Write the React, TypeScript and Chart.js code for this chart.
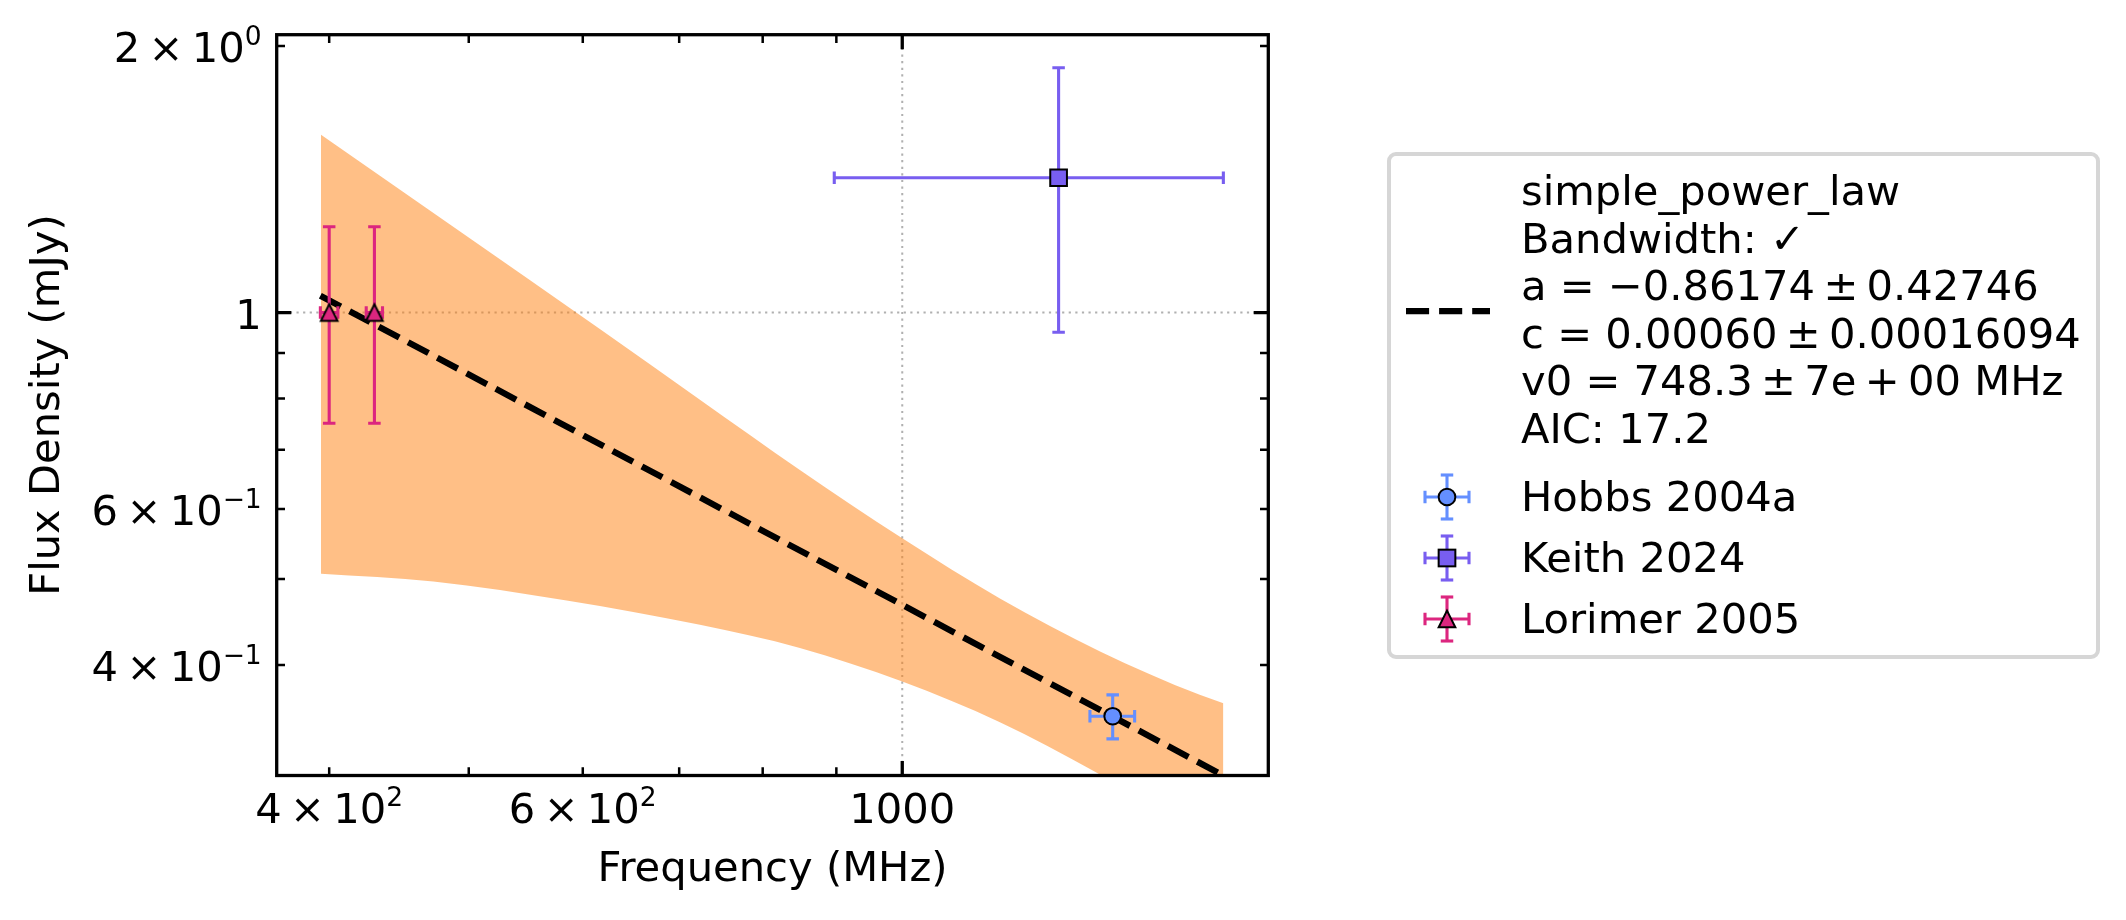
import React, { useEffect, useRef } from 'react';
import { Chart, registerables } from 'chart.js';

Chart.register(...registerables);

// ---------- data ----------
const hobbsFreq = [1400];
const hobbsFlux = [0.35];
const hobbsFreqErr = [50];
const hobbsFluxErr = [0.02];

const keithFreq = [1284];
const keithFlux = [1.42];
const keithFreqErr = [387];
const keithFluxErr = [0.47];

const lorimerFreq = [400, 430];
const lorimerFlux = [1.0, 1.0];
const lorimerFreqErr = [5.6, 5.6];
const lorimerFluxErr = [0.25, 0.25];

const fitFreq = [394.4, 1671];
const fitFlux = [1.045, 0.3];

const bandUpperFreq = [394.8, 616.6, 723.6, 849, 1000, 1169, 1372, 1609, 1671];
const bandUpperFlux = [1.588, 0.958, 0.797, 0.664, 0.556, 0.4755, 0.4143, 0.37, 0.362];
const bandLowerFreq = [394.8, 472.5, 584.7, 723.6, 849, 1000, 1169, 1361, 1671];
const bandLowerFlux = [0.507, 0.497, 0.473, 0.444, 0.418, 0.383, 0.3446, 0.303, 0.25];

// tick labels: "mantissa^exponent"
const xTickValues = [400, 500, 600, 700, 800, 900, 1000];
const xTickLabels = ['4 × 10^2', '', '6 × 10^2', '', '', '', '1000'];
const xMajorTicks = [1000];
const yTickValues = [0.4, 0.5, 0.6, 0.7, 0.8, 0.9, 1, 2];
const yTickLabels = ['4 × 10^−1', '', '6 × 10^−1', '', '', '', '1', '2 × 10^0'];
const yMajorTicks = [1];

const xRange = [367.8, 1795.5];
const yRange = [0.3016, 2.06];

const TS = '\u2009';
const fitLabelLines = [
  'simple_power_law',
  'Bandwidth: ✓',
  `a = −0.86174${TS}±${TS}0.42746`,
  `c = 0.00060${TS}±${TS}0.00016094`,
  `v0 = 748.3${TS}±${TS}7e${TS}+${TS}00 MHz`,
  'AIC: 17.2',
];
const seriesNames = ['Hobbs 2004a', 'Keith 2024', 'Lorimer 2005'];
const seriesColors = ['#648FFF', '#785EF0', '#DC267F'];

// ---------- style constants ----------
const W = 2126;
const H = 920;
const FONT = '"DejaVu Sans", sans-serif';
const FS = 41.67;
const SUP = 26.5;
const AREA = { left: 276.7, right: 1268.3, top: 34.7, bottom: 775.5 };
const MS = 16.7; // marker size
const ELW = 3.1; // errorbar line width
const CAP = 12.5; // cap length

function makeTriangle(color: string) {
  const c = document.createElement('canvas');
  const s = 22;
  c.width = s;
  c.height = s;
  const g = c.getContext('2d')!;
  const h = MS / 2;
  g.beginPath();
  g.moveTo(s / 2, s / 2 - h);
  g.lineTo(s / 2 - h, s / 2 + h);
  g.lineTo(s / 2 + h, s / 2 + h);
  g.closePath();
  g.fillStyle = color;
  g.fill();
  g.lineWidth = 2;
  g.lineJoin = 'miter';
  g.strokeStyle = '#000';
  g.stroke();
  return c;
}

const pts = (xs: number[], ys: number[]) => xs.map((x, i) => ({ x, y: ys[i] }));

function drawMathLabel(ctx: CanvasRenderingContext2D, label: string, x: number, baseline: number, align: string) {
  if (!label) return;
  const [mantRaw, exp] = label.split('^');
  const mant = mantRaw.replace(/ × /g, `${TS}×${TS}`);
  ctx.font = `${FS}px ${FONT}`;
  const w1 = ctx.measureText(mant).width;
  let w2 = 0;
  if (exp !== undefined) {
    ctx.font = `${SUP}px ${FONT}`;
    w2 = ctx.measureText(exp).width;
  }
  const total = w1 + w2;
  const start = align === 'center' ? x - total / 2 : x - total;
  ctx.textAlign = 'left';
  ctx.textBaseline = 'alphabetic';
  ctx.fillStyle = '#000';
  ctx.font = `${FS}px ${FONT}`;
  ctx.fillText(mant, start, baseline);
  if (exp !== undefined) {
    ctx.font = `${SUP}px ${FONT}`;
    ctx.fillText(exp, start + w1, baseline - 17);
  }
}

const chartPlugin = {
  id: 'mplFrame',
  beforeDatasetsDraw(chart: any) {
    const { ctx, chartArea: a } = chart;
    const xs = chart.scales.x;
    const ys = chart.scales.y;
    ctx.save();
    ctx.strokeStyle = '#b0b0b0';
    ctx.lineWidth = 2;
    ctx.setLineDash([2.2, 4.4]);
    xMajorTicks.forEach((v) => {
      const p = xs.getPixelForValue(v);
      ctx.beginPath();
      ctx.moveTo(p, a.top);
      ctx.lineTo(p, a.bottom);
      ctx.stroke();
    });
    yMajorTicks.forEach((v) => {
      const p = ys.getPixelForValue(v);
      ctx.beginPath();
      ctx.moveTo(a.left, p);
      ctx.lineTo(a.right, p);
      ctx.stroke();
    });
    ctx.restore();
  },
  beforeDatasetDraw(chart: any, args: any) {
    const ds = chart.data.datasets[args.index];
    if (!ds.errX) return;
    const { ctx, chartArea: a } = chart;
    const xs = chart.scales.x;
    const ys = chart.scales.y;
    ctx.save();
    ctx.beginPath();
    ctx.rect(a.left, a.top, a.right - a.left, a.bottom - a.top);
    ctx.clip();
    ctx.strokeStyle = ds.errColor;
    ctx.lineWidth = ELW;
    ds.data.forEach((d: any, i: number) => {
      const px = xs.getPixelForValue(d.x);
      const py = ys.getPixelForValue(d.y);
      const x0 = xs.getPixelForValue(d.x - ds.errX[i]);
      const x1 = xs.getPixelForValue(d.x + ds.errX[i]);
      const y0 = ys.getPixelForValue(d.y - ds.errY[i]);
      const y1 = ys.getPixelForValue(d.y + ds.errY[i]);
      ctx.beginPath();
      ctx.moveTo(x0, py);
      ctx.lineTo(x1, py);
      ctx.moveTo(px, y0);
      ctx.lineTo(px, y1);
      ctx.moveTo(x0, py - CAP / 2);
      ctx.lineTo(x0, py + CAP / 2);
      ctx.moveTo(x1, py - CAP / 2);
      ctx.lineTo(x1, py + CAP / 2);
      ctx.moveTo(px - CAP / 2, y0);
      ctx.lineTo(px + CAP / 2, y0);
      ctx.moveTo(px - CAP / 2, y1);
      ctx.lineTo(px + CAP / 2, y1);
      ctx.stroke();
    });
    ctx.restore();
  },
  afterDatasetsDraw(chart: any) {
    const { ctx, chartArea: a } = chart;
    const xs = chart.scales.x;
    const ys = chart.scales.y;
    ctx.save();
    ctx.strokeStyle = '#000';
    ctx.setLineDash([]);
    xTickValues.forEach((v) => {
      const p = xs.getPixelForValue(v);
      const major = xMajorTicks.includes(v);
      const len = major ? 14.6 : 8.3;
      ctx.lineWidth = major ? 3.3 : 2.5;
      ctx.beginPath();
      ctx.moveTo(p, a.bottom);
      ctx.lineTo(p, a.bottom - len);
      ctx.moveTo(p, a.top);
      ctx.lineTo(p, a.top + len);
      ctx.stroke();
    });
    yTickValues.forEach((v) => {
      const p = ys.getPixelForValue(v);
      const major = yMajorTicks.includes(v);
      const len = major ? 14.6 : 8.3;
      ctx.lineWidth = major ? 3.3 : 2.5;
      ctx.beginPath();
      ctx.moveTo(a.left, p);
      ctx.lineTo(a.left + len, p);
      ctx.moveTo(a.right, p);
      ctx.lineTo(a.right - len, p);
      ctx.stroke();
    });
    ctx.lineWidth = 3.3;
    ctx.lineJoin = 'miter';
    ctx.strokeRect(a.left, a.top, a.right - a.left, a.bottom - a.top);

    // tick labels (mathtext-like superscripts)
    xTickValues.forEach((v, i) => {
      drawMathLabel(ctx, xTickLabels[i], xs.getPixelForValue(v), a.bottom + 47.8, 'center');
    });
    yTickValues.forEach((v, i) => {
      drawMathLabel(ctx, yTickLabels[i], a.left - 15, ys.getPixelForValue(v) + 16.2, 'right');
    });
    ctx.restore();
  },
};

function ChartCanvas() {
  const ref = useRef<HTMLCanvasElement | null>(null);
  useEffect(() => {
    if (!ref.current) return;
    const tri = makeTriangle(seriesColors[2]);
    const chart = new Chart(ref.current, {
      type: 'scatter',
      data: {
        datasets: [
          {
            label: 'band upper',
            data: pts(bandUpperFreq, bandUpperFlux),
            showLine: true,
            fill: '+1',
            backgroundColor: 'rgba(255,127,14,0.5)',
            borderWidth: 0,
            borderColor: 'rgba(0,0,0,0)',
            pointRadius: 0,
            cubicInterpolationMode: 'monotone',
            order: 11,
          } as any,
          {
            label: 'band lower',
            data: pts(bandLowerFreq, bandLowerFlux),
            showLine: true,
            fill: false,
            borderWidth: 0,
            borderColor: 'rgba(0,0,0,0)',
            pointRadius: 0,
            cubicInterpolationMode: 'monotone',
            order: 10,
          } as any,
          {
            label: 'fit',
            data: pts(fitFreq, fitFlux),
            showLine: true,
            borderColor: '#000',
            borderWidth: 6.25,
            borderDash: [23.1, 10],
            borderCapStyle: 'butt',
            pointRadius: 0,
            fill: false,
            order: 9,
          } as any,
          {
            label: seriesNames[2],
            data: pts(lorimerFreq, lorimerFlux),
            pointStyle: tri,
            pointRadius: 11,
            errX: lorimerFreqErr,
            errY: lorimerFluxErr,
            errColor: seriesColors[2],
            order: 3,
          } as any,
          {
            label: seriesNames[1],
            data: pts(keithFreq, keithFlux),
            pointStyle: 'rect',
            pointRadius: MS / Math.SQRT2,
            backgroundColor: seriesColors[1],
            borderColor: '#000',
            borderWidth: 2,
            errX: keithFreqErr,
            errY: keithFluxErr,
            errColor: seriesColors[1],
            order: 2,
          } as any,
          {
            label: seriesNames[0],
            data: pts(hobbsFreq, hobbsFlux),
            pointStyle: 'circle',
            pointRadius: MS / 2,
            backgroundColor: seriesColors[0],
            borderColor: '#000',
            borderWidth: 2,
            errX: hobbsFreqErr,
            errY: hobbsFluxErr,
            errColor: seriesColors[0],
            order: 1,
          } as any,
        ],
      },
      options: {
        responsive: false,
        animation: false,
        devicePixelRatio: 1,
        layout: {
          padding: { left: 0, top: AREA.top, right: W - AREA.right, bottom: 0 },
        },
        plugins: {
          legend: { display: false },
          tooltip: { enabled: false },
          filler: { propagate: false },
        },
        events: [],
        scales: {
          x: {
            type: 'logarithmic',
            min: xRange[0],
            max: xRange[1],
            grid: { display: false, drawTicks: false },
            border: { display: false },
            afterBuildTicks: (s: any) => {
              s.ticks = xTickValues.map((v) => ({ value: v }));
            },
            afterFit: (s: any) => {
              s.height = H - AREA.bottom;
            },
            ticks: { display: false, autoSkip: false },
            title: {
              display: true,
              text: 'Frequency (MHz)',
              color: '#000',
              font: { family: FONT, size: FS },
              padding: { top: 0, bottom: 25 },
            },
          },
          y: {
            type: 'logarithmic',
            min: yRange[0],
            max: yRange[1],
            grid: { display: false, drawTicks: false },
            border: { display: false },
            afterBuildTicks: (s: any) => {
              s.ticks = yTickValues.map((v) => ({ value: v }));
            },
            afterFit: (s: any) => {
              s.width = AREA.left;
            },
            ticks: { display: false, autoSkip: false },
            title: {
              display: true,
              text: 'Flux Density (mJy)',
              color: '#000',
              font: { family: FONT, size: FS },
              padding: { top: 23, bottom: 0 },
            },
          },
        },
      } as any,
      plugins: [chartPlugin as any],
    });
    return () => chart.destroy();
  }, []);
  return (
    <canvas
      ref={ref}
      width={W}
      height={H}
      style={{ position: 'absolute', left: 0, top: 0, width: W, height: H }}
    />
  );
}

function ErrHandle({ cx, cy, color, kind }: { cx: number; cy: number; color: string; kind: string }) {
  const hw = 22;
  const hh = 22;
  const m = MS / 2;
  return (
    <g>
      <g stroke={color} strokeWidth={ELW}>
        <line x1={cx - hw} y1={cy} x2={cx + hw} y2={cy} />
        <line x1={cx} y1={cy - hh} x2={cx} y2={cy + hh} />
        <line x1={cx - hw} y1={cy - CAP / 2} x2={cx - hw} y2={cy + CAP / 2} />
        <line x1={cx + hw} y1={cy - CAP / 2} x2={cx + hw} y2={cy + CAP / 2} />
        <line x1={cx - CAP / 2} y1={cy - hh} x2={cx + CAP / 2} y2={cy - hh} />
        <line x1={cx - CAP / 2} y1={cy + hh} x2={cx + CAP / 2} y2={cy + hh} />
      </g>
      {kind === 'circle' && <circle cx={cx} cy={cy} r={m} fill={color} stroke="#000" strokeWidth={2} />}
      {kind === 'rect' && (
        <rect x={cx - m} y={cy - m} width={MS} height={MS} fill={color} stroke="#000" strokeWidth={2} />
      )}
      {kind === 'tri' && (
        <polygon
          points={`${cx},${cy - m} ${cx - m},${cy + m} ${cx + m},${cy + m}`}
          fill={color}
          stroke="#000"
          strokeWidth={2}
        />
      )}
    </g>
  );
}

function Legend() {
  const textLeft = 1521;
  const lineCenters = [191, 238.5, 286, 333.5, 381, 428.5];
  const entryCenters = [497, 558, 619];
  const kinds = ['circle', 'rect', 'tri'];
  const handleX = 1447;
  const textStyle = (cy: number): React.CSSProperties => ({
    position: 'absolute',
    left: textLeft,
    top: cy - 24,
    height: 48,
    lineHeight: '48px',
    fontFamily: FONT,
    fontSize: FS,
    color: '#000',
    whiteSpace: 'nowrap',
  });
  return (
    <>
      <div
        style={{
          position: 'absolute',
          left: 1387,
          top: 152,
          width: 713,
          height: 507,
          boxSizing: 'border-box',
          border: '4px solid #d6d6d6',
          borderRadius: 9,
          background: 'rgba(255,255,255,0.8)',
        }}
      />
      <svg
        width={W}
        height={H}
        style={{ position: 'absolute', left: 0, top: 0, pointerEvents: 'none' }}
      >
        <line
          x1={1406}
          y1={311}
          x2={1490}
          y2={311}
          stroke="#000"
          strokeWidth={6.25}
          strokeDasharray="23.1 10"
        />
        {entryCenters.map((cy, i) => (
          <ErrHandle key={i} cx={handleX} cy={cy} color={seriesColors[i]} kind={kinds[i]} />
        ))}
      </svg>
      {fitLabelLines.map((t, i) => (
        <div key={'f' + i} style={textStyle(lineCenters[i])}>
          {t}
        </div>
      ))}
      {seriesNames.map((t, i) => (
        <div key={'s' + i} style={textStyle(entryCenters[i])}>
          {t}
        </div>
      ))}
    </>
  );
}

export default function App() {
  return (
    <div style={{ position: 'absolute', left: 0, top: 0, width: W, height: H, background: '#fff' }}>
      <ChartCanvas />
      <Legend />
    </div>
  );
}
